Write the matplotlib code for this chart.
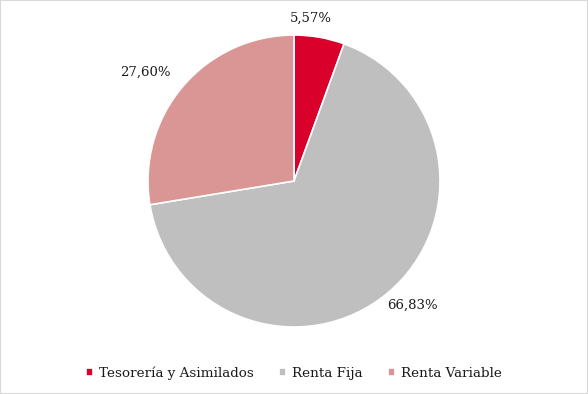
import matplotlib
matplotlib.use("Agg")
import matplotlib.pyplot as plt
import numpy as np
from matplotlib.patches import Rectangle

categories = ["Tesorería y Asimilados", "Renta Fija", "Renta Variable"]
values = [5.57, 66.83, 27.60]
labels = ["5,57%", "66,83%", "27,60%"]
colors = ["#d9002b", "#bfbfbf", "#d99694"]
label_r = [1.12, 1.18, 1.26]

plt.rcParams['font.family'] = ['DejaVu Serif']

fig = plt.figure(figsize=(5.88, 3.94), dpi=100)
fig.patches.append(Rectangle((0, 0), 1, 1, transform=fig.transFigure,
                             fill=False, edgecolor="#d9d9d9", linewidth=1.5))
ax = fig.add_axes([148/588, (394-327)/394, 292/588, 292/394])
wedges, _ = ax.pie(values, colors=colors, startangle=90, counterclock=False,
                   wedgeprops=dict(edgecolor="white", linewidth=1.2))
for w, lab, r in zip(wedges, labels, label_r):
    ang = np.deg2rad((w.theta1 + w.theta2) / 2 + 4)
    ax.text(r*np.cos(ang), r*np.sin(ang), lab, ha="center", va="center",
            fontsize=9.5, color="#1a1a1a")
ax.set_xlim(-1, 1); ax.set_ylim(-1, 1)
ax.set_aspect("equal")

fig.legend(wedges, categories, loc="center", bbox_to_anchor=(0.5, (394-373)/394),
           ncol=3, frameon=False, fontsize=9.7, handlelength=0.5, handleheight=0.5,
           handletextpad=0.45, columnspacing=1.9, labelcolor="#1a1a1a")
fig.savefig("out.png", dpi=100)
